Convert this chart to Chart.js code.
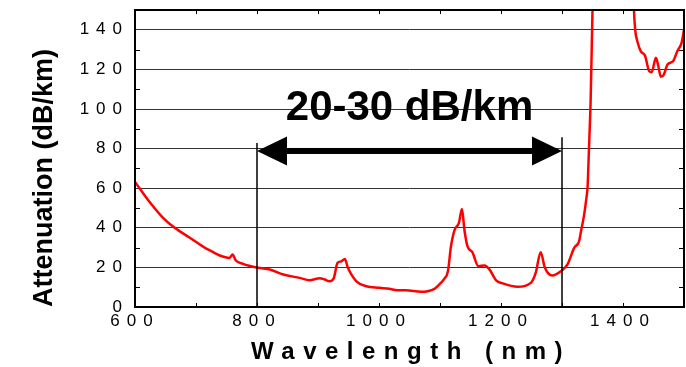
<!DOCTYPE html>
<html>
<head>
<meta charset="utf-8">
<script src="https://cdn.jsdelivr.net/npm/chart.js@4.4.1/dist/chart.umd.min.js"></script>
<style>
  html, body { margin: 0; padding: 0; background: #fff; }
  #wrap { width: 686px; height: 367px; }
</style>
</head>
<body>
<div id="wrap"><canvas id="chart"></canvas></div>
<script>
// Spectre d'atténuation
const wavelengths = [600, 625, 646, 665, 690, 717, 725, 739, 755, 760, 765, 777, 802, 821, 843, 870, 886, 903, 911, 919, 926, 932, 938, 944, 949, 963, 979, 1001, 1017, 1030, 1044, 1069, 1091, 1099, 1107, 1113, 1118, 1124, 1131, 1136, 1140, 1145, 1153, 1163, 1173, 1181, 1192, 1203, 1227, 1249, 1257, 1265, 1272, 1284, 1298, 1309, 1320, 1328, 1331, 1336, 1340, 1342, 1344, 1347, 1350, 1352, 1416, 1418, 1420, 1424, 1429, 1436, 1443, 1447, 1454, 1458, 1462, 1467, 1473, 1482, 1489, 1496, 1500];
const attenuation = [63.2, 52.6, 45, 40, 35, 29.5, 28.2, 26, 24.8, 26.5, 23.6, 21.8, 19.8, 18.9, 16.4, 14.7, 13.5, 14.5, 13.9, 13, 14.7, 22.3, 23, 24.3, 19.8, 13, 10.5, 9.7, 9.2, 8.5, 8.5, 7.7, 9.2, 11.4, 14.2, 18, 30.7, 39, 42.5, 49.5, 39, 30.7, 27.7, 20.6, 21, 19, 13.5, 11.9, 10.2, 12.2, 17.3, 27.7, 19.8, 15.9, 18, 21.5, 29.9, 33.2, 38, 46, 55, 61, 78, 105, 150, 175, 175, 150, 140, 133.7, 129.2, 127, 119.1, 118.6, 125.9, 121.6, 116.3, 117.4, 122.5, 124.1, 129.2, 133.4, 140];

const xTickLabels = [600, 800, 1000, 1200, 1400];
const yTickLabels = [0, 20, 40, 60, 80, 100, 120, 140];

// Annotation : fenêtre 800-1300 nm
const bandStart = 800;
const bandEnd = 1300;
const bandLabel = '20-30 dB/km';

const FONT = "'Liberation Sans', Arial, sans-serif";

const overlay = {
    id: 'overlay',
    beforeDraw(chart) {
        chart.ctx.letterSpacing = '7px';
    },
    beforeDatasetsDraw(chart) {
        chart.ctx.letterSpacing = '0px';
    },
    afterDatasetsDraw(chart) {
        const { ctx, chartArea: a, scales: { x, y } } = chart;
        ctx.save();
        ctx.letterSpacing = '0px';
        ctx.strokeStyle = '#000';

        // cadre
        ctx.lineWidth = 2;
        ctx.strokeRect(a.left, a.top, a.right - a.left, a.bottom - a.top);

        // petites graduations vers l'intérieur
        ctx.lineWidth = 1;
        ctx.beginPath();
        for (let v = 10; v < 150; v += 20) {
            const py = Math.round(y.getPixelForValue(v)) + 0.5;
            ctx.moveTo(a.left, py); ctx.lineTo(a.left + 5, py);
            ctx.moveTo(a.right - 5, py); ctx.lineTo(a.right, py);
        }
        for (let v = 700; v < 1500; v += 100) {
            const px = Math.round(x.getPixelForValue(v)) + 0.5;
            ctx.moveTo(px, a.top); ctx.lineTo(px, a.top + 4);
            ctx.moveTo(px, a.bottom); ctx.lineTo(px, a.bottom - 4);
        }
        ctx.stroke();

        // lignes verticales
        ctx.lineWidth = 1.5;
        ctx.beginPath();
        ctx.moveTo(x.getPixelForValue(bandStart), y.getPixelForValue(82.8));
        ctx.lineTo(x.getPixelForValue(bandStart), a.bottom);
        ctx.moveTo(x.getPixelForValue(bandEnd), y.getPixelForValue(85.7));
        ctx.lineTo(x.getPixelForValue(bandEnd), a.bottom);
        ctx.stroke();

        // flèche double
        const x1 = x.getPixelForValue(bandStart);
        const x2 = x.getPixelForValue(bandEnd);
        const ay = y.getPixelForValue(78.8);
        const headL = 30, headH = 14.5;
        ctx.fillStyle = '#000';
        ctx.fillRect(x1 + headL - 1, ay - 3, (x2 - x1) - 2 * headL + 2, 6);
        ctx.beginPath();
        ctx.moveTo(x1, ay); ctx.lineTo(x1 + headL, ay - headH); ctx.lineTo(x1 + headL, ay + headH);
        ctx.closePath();
        ctx.moveTo(x2, ay); ctx.lineTo(x2 - headL, ay - headH); ctx.lineTo(x2 - headL, ay + headH);
        ctx.closePath();
        ctx.fill();

        // texte
        ctx.font = 'bold 42px ' + FONT;
        ctx.textAlign = 'center';
        ctx.textBaseline = 'alphabetic';
        ctx.fillText(bandLabel, x.getPixelForValue(1050), 120);
        ctx.restore();
    },
    afterDraw(chart) {
        const ctx = chart.ctx;
        ctx.save();
        ctx.fillStyle = '#000';
        ctx.textBaseline = 'alphabetic';

        // titre axe X
        ctx.letterSpacing = '8.5px';
        ctx.font = 'bold 24px ' + FONT;
        ctx.textAlign = 'center';
        ctx.fillText('Wavelength (nm)', 411, 359);

        // titre axe Y
        ctx.letterSpacing = '0px';
        ctx.font = 'bold 27px ' + FONT;
        ctx.translate(52, 178);
        ctx.rotate(-Math.PI / 2);
        ctx.fillText('Attenuation (dB/km)', 0, 0);
        ctx.restore();
    }
};

const chart = new Chart(document.getElementById('chart'), {
    type: 'line',
    data: {
        datasets: [{
            data: wavelengths.map((w, i) => ({ x: w, y: attenuation[i] })),
            borderColor: '#ff0000',
            borderWidth: 2.5,
            pointRadius: 0,
            fill: false,
            cubicInterpolationMode: 'monotone',
            clip: 0
        }]
    },
    options: {
        responsive: true,
        maintainAspectRatio: false,
        animation: false,
        layout: { padding: { top: 10, right: 2, left: 0, bottom: 0 } },
        plugins: {
            legend: { display: false },
            tooltip: { enabled: false }
        },
        scales: {
            x: {
                type: 'linear',
                min: 600,
                max: 1500,
                afterFit: s => { s.height = 60; s.paddingLeft = 0; s.paddingRight = 0; },
                border: { display: false },
                grid: { display: false, drawTicks: false },
                ticks: {
                    stepSize: 100,
                    autoSkip: false,
                    maxRotation: 0,
                    padding: 4,
                    color: '#000',
                    font: { family: FONT, size: 17 },
                    callback: v => xTickLabels.includes(v) ? String(v) : ''
                }
            },
            y: {
                min: 0,
                max: 150,
                afterFit: s => { s.width = 135; s.paddingTop = 0; s.paddingBottom = 0; },
                border: { display: false },
                grid: {
                    drawTicks: false,
                    lineWidth: 1,
                    color: c => (c.tick.value % 20 === 0 && c.tick.value > 0 && c.tick.value < 150) ? '#333' : 'rgba(0,0,0,0)'
                },
                ticks: {
                    stepSize: 10,
                    autoSkip: false,
                    padding: 6,
                    color: '#000',
                    font: { family: FONT, size: 17 },
                    callback: v => yTickLabels.includes(v) ? String(v) : ''
                }
            }
        }
    },
    plugins: [overlay]
});
</script>
</body>
</html>
